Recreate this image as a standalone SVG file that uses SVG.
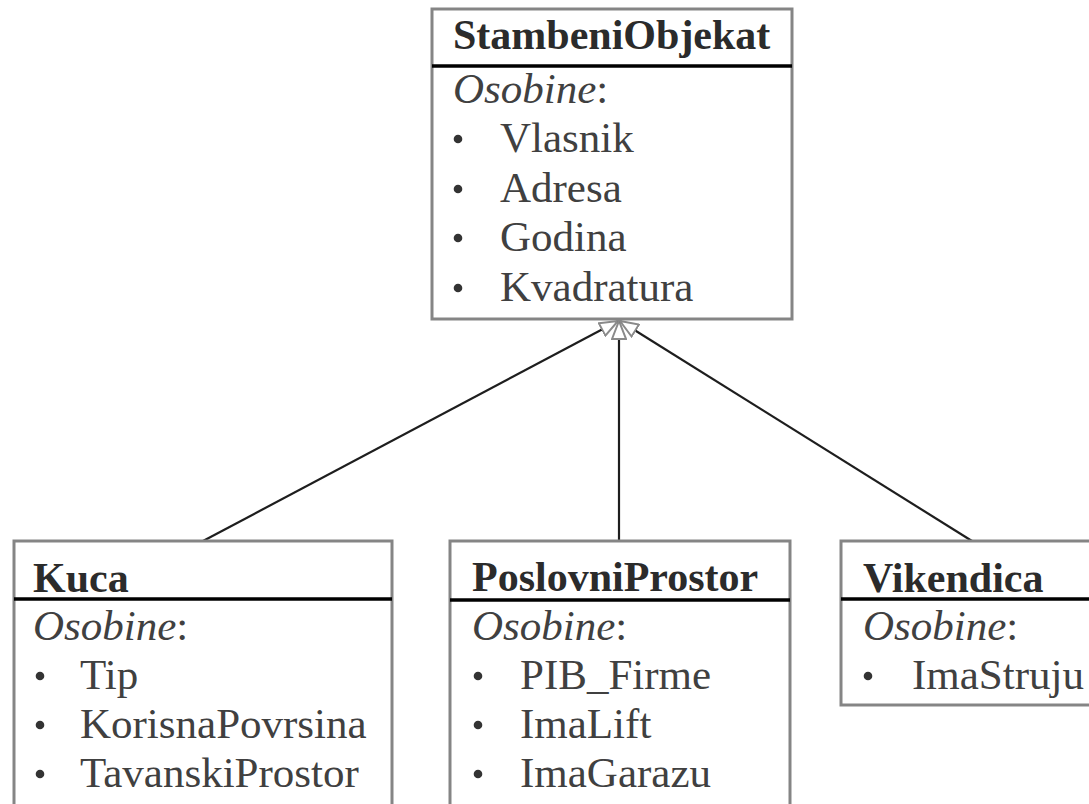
<svg xmlns="http://www.w3.org/2000/svg" width="1089" height="804" viewBox="0 0 1089 804">
<style>
.box{fill:#fff;stroke:#858585;stroke-width:3}
.div{stroke:#000;stroke-width:3.5}
.title{font-family:"Liberation Serif",serif;font-weight:bold;font-size:42px;fill:#2b2b2b}
.txt{font-family:"Liberation Serif",serif;font-size:43px;fill:#404040}
.it{font-style:italic}
.bul{fill:#333}
.conn{stroke:#1e1e1e;stroke-width:2.2;fill:none;marker-end:url(#tri)}
</style>
<defs>
<marker id="tri" viewBox="0 0 20 16" refX="19" refY="8" markerWidth="20" markerHeight="16" markerUnits="userSpaceOnUse" orient="auto">
<path d="M1,1 L19,8 L1,15 Z" fill="#fff" stroke="#8a8a8a" stroke-width="2"/>
</marker>
</defs>
<rect width="1089" height="804" fill="#fff"/>
<g id="connectors">
<line class="conn" x1="203" y1="541" x2="618" y2="321"/>
<line class="conn" x1="619" y1="541" x2="619" y2="321"/>
<line class="conn" x1="972" y1="541" x2="620" y2="321"/>
</g>
<g id="StambeniObjekat">
<rect class="box" x="432" y="9" width="360" height="310"/>
<text class="title" x="453" y="49">StambeniObjekat</text>
<line class="div" x1="432" y1="66" x2="792" y2="66"/>
<text class="txt" x="453" y="103"><tspan class="it">Osobine</tspan>:</text>
<circle class="bul" cx="458" cy="139" r="4.3"/><text class="txt" x="500" y="152">Vlasnik</text>
<circle class="bul" cx="458" cy="189" r="4.3"/><text class="txt" x="500" y="202">Adresa</text>
<circle class="bul" cx="458" cy="238" r="4.3"/><text class="txt" x="500" y="251">Godina</text>
<circle class="bul" cx="458" cy="288" r="4.3"/><text class="txt" x="500" y="301">Kvadratura</text>
</g>
<g id="Kuca">
<rect class="box" x="14" y="541" width="378" height="300"/>
<text class="title" x="33" y="592">Kuca</text>
<line class="div" x1="14" y1="599" x2="392" y2="599"/>
<text class="txt" x="33" y="640"><tspan class="it">Osobine</tspan>:</text>
<circle class="bul" cx="40" cy="676" r="4.3"/><text class="txt" x="80" y="689">Tip</text>
<circle class="bul" cx="40" cy="725" r="4.3"/><text class="txt" x="80" y="738">KorisnaPovrsina</text>
<circle class="bul" cx="40" cy="774" r="4.3"/><text class="txt" x="80" y="787">TavanskiProstor</text>
</g>
<g id="PoslovniProstor">
<rect class="box" x="450" y="541" width="340" height="300"/>
<text class="title" x="472" y="591">PoslovniProstor</text>
<line class="div" x1="450" y1="600" x2="790" y2="600"/>
<text class="txt" x="472" y="640"><tspan class="it">Osobine</tspan>:</text>
<circle class="bul" cx="478" cy="676" r="4.3"/><text class="txt" x="520" y="689">PIB_Firme</text>
<circle class="bul" cx="478" cy="725" r="4.3"/><text class="txt" x="520" y="738">ImaLift</text>
<circle class="bul" cx="478" cy="774" r="4.3"/><text class="txt" x="520" y="787">ImaGarazu</text>
</g>
<g id="Vikendica">
<rect class="box" x="841" y="541" width="262" height="164"/>
<text class="title" x="863" y="592">Vikendica</text>
<line class="div" x1="841" y1="599" x2="1103" y2="599"/>
<text class="txt" x="863" y="640"><tspan class="it">Osobine</tspan>:</text>
<circle class="bul" cx="868" cy="676" r="4.3"/><text class="txt" x="912" y="689">ImaStruju</text>
</g>
</svg>
